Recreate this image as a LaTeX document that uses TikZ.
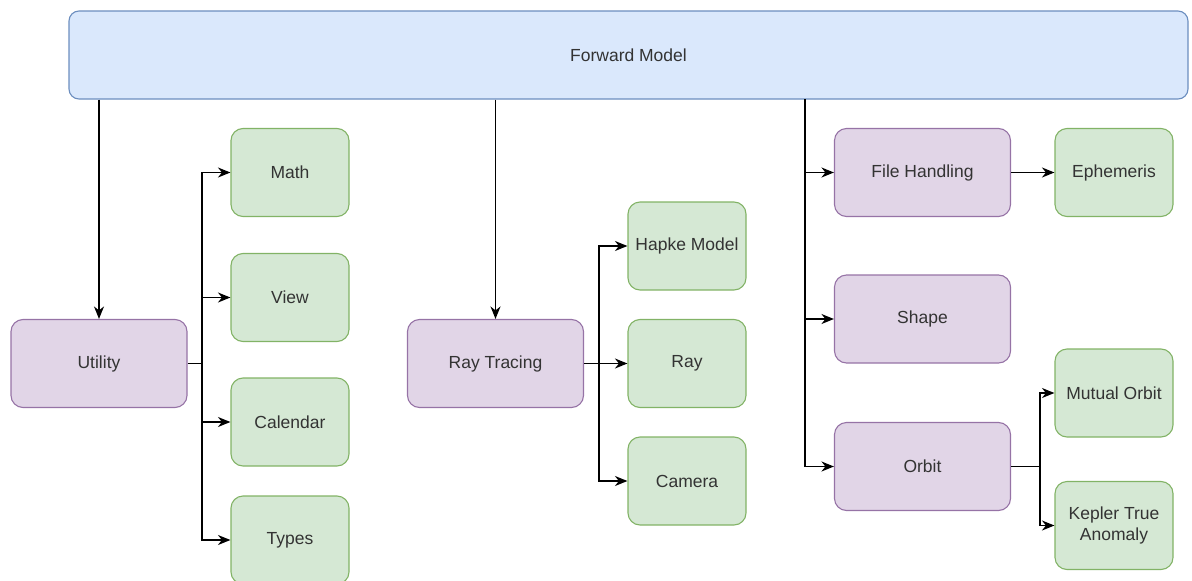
\documentclass[tikz,border=0pt]{standalone}
\usepackage{fontspec}
\setmainfont{Liberation Sans}
\usetikzlibrary{arrows.meta}
\definecolor{bluefill}{HTML}{DAE8FC}
\definecolor{bluedraw}{HTML}{6C8EBF}
\definecolor{purplefill}{HTML}{E1D5E7}
\definecolor{purpledraw}{HTML}{9673A6}
\definecolor{greenfill}{HTML}{D5E8D4}
\definecolor{greendraw}{HTML}{82B366}
\definecolor{txt}{HTML}{333333}
\tikzset{
  box/.style={rectangle, rounded corners=12pt, line width=1.1pt, minimum height=88pt,
    inner sep=2pt, text=txt, font=\fontsize{17.5}{21}\selectfont, align=center},
  topbox/.style={box, fill=bluefill, draw=bluedraw, minimum width=1119pt, rounded corners=10pt},
  modbox/.style={box, fill=purplefill, draw=purpledraw, minimum width=176pt},
  leafbox/.style={box, fill=greenfill, draw=greendraw, minimum width=118pt},
  arr/.style={line width=1.4pt, draw=black, -{Stealth[length=12.5pt,width=10pt,inset=4pt]}},
  ln/.style={line width=1.4pt, draw=black}
}
\begin{document}
\begin{tikzpicture}[x=1pt,y=-1pt]
\useasboundingbox (0,0) rectangle (1192,581);
\node[topbox] (fm) at (628.5,55) {Forward Model};
% Utility group
\node[modbox] (util) at (99,363.5) {Utility};
\node[leafbox] (math) at (290,172.5) {Math};
\node[leafbox] (view) at (290,297.5) {View};
\node[leafbox] (cal) at (290,422) {Calendar};
\node[leafbox] (types) at (290,540) {Types};
% Ray tracing group
\node[modbox] (rt) at (495.5,363.5) {Ray Tracing};
\node[leafbox] (hapke) at (687,246) {Hapke Model};
\node[leafbox] (ray) at (687,363.5) {Ray};
\node[leafbox] (cam) at (687,481) {Camera};
% Right group
\node[modbox] (fh) at (922.5,172.5) {File Handling};
\node[leafbox] (eph) at (1114,172.5) {Ephemeris};
\node[modbox] (shape) at (922.5,319) {Shape};
\node[modbox] (orbit) at (922.5,466.5) {Orbit};
\node[leafbox] (mut) at (1114,393) {Mutual Orbit};
\node[leafbox] (kep) at (1114,525.5) {Kepler True\\Anomaly};
% bus coordinates
\coordinate (ub) at (202,363.5);
\coordinate (rb) at (599,363.5);
\coordinate (fb) at (805,99);
\coordinate (ob) at (1040,466.5);
% connectors from forward model
\draw[arr] (fm.south -| util.north) -- (util.north);
\draw[arr] (fm.south -| rt.north) -- (rt.north);
\draw[arr] (fb) |- (fh.west);
\draw[arr] (fb) |- (shape.west);
\draw[arr] (fb) |- (orbit.west);
% utility
\draw[ln] (util.east) -- (ub);
\draw[arr] (ub) |- (math.west);
\draw[arr] (ub) |- (view.west);
\draw[arr] (ub) |- (cal.west);
\draw[arr] (ub) |- (types.west);
% ray tracing
\draw[ln] (rt.east) -- (rb);
\draw[arr] (rb) |- (hapke.west);
\draw[arr] (rb) -- (ray.west);
\draw[arr] (rb) |- (cam.west);
% file handling
\draw[arr] (fh.east) -- (eph.west);
% orbit
\draw[ln] (orbit.east) -- (ob);
\draw[arr] (ob) |- (mut.west);
\draw[arr] (ob) |- (kep.west);
\end{tikzpicture}
\end{document}
